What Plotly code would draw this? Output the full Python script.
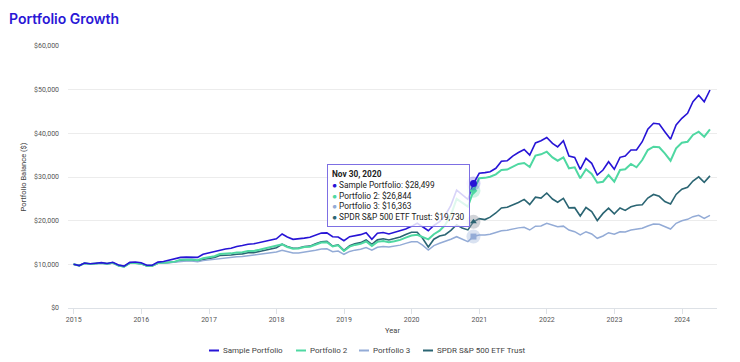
import pandas as pd
import plotly.graph_objects as go

# ---------------- data (monthly balances, Dec 2014 .. May 2024) ----------------
dates = pd.date_range("2014-12-31", periods=114, freq="ME")

sample_portfolio = [
    10000, 9720, 10290, 10150, 10260, 10400, 10200, 10480, 9850, 9600, 10450, 10520, 10380,
    9800, 9780, 10500, 10650, 10950, 11200, 11600, 11650, 11700, 11600, 12300, 12650,
    12950, 13280, 13500, 13700, 14100, 14300, 14600, 14700, 15000, 15300, 15650, 15850,
    16950, 16250, 15730, 15800, 16000, 16200, 16700, 17150, 17200, 16330, 16250, 15410,
    16330, 16550, 16800, 17240, 15730, 17100, 17300, 16950, 17350, 17700, 18100, 18700,
    19400, 18600, 17700, 18900, 19800, 21200, 23500, 27000, 25900, 24890, 28499, 30850,
    31000, 31220, 32000, 33600, 33700, 34800, 35600, 36300, 35000, 37800, 38300, 39050,
    37700, 36900, 38300, 34810, 34500, 31760, 34280, 33130, 30460, 31600, 33500, 31760,
    34500, 34810, 36180, 36180, 38080, 40920, 42300, 42140, 40380, 38630, 41910, 43440,
    44590, 47240, 48710, 47240, 49920,
]
portfolio_2 = [
    10000, 9710, 10250, 10090, 10190, 10320, 10110, 10340, 9720, 9480, 10280, 10320, 10150,
    9650, 9650, 10320, 10370, 10570, 10620, 11040, 11070, 11100, 10930, 11380, 11630,
    11870, 12350, 12380, 12510, 12690, 12770, 13030, 13070, 13340, 13650, 14060, 14230,
    14600, 13960, 13560, 13620, 13950, 14030, 14540, 15000, 15080, 14100, 14340, 13060,
    14050, 14450, 14680, 15230, 14220, 15150, 15340, 15060, 15300, 15600, 16130, 16600,
    16750, 16300, 15730, 16900, 17700, 19000, 21300, 25000, 24100, 23200, 26844, 29700,
    29800, 30070, 30600, 31600, 31700, 32400, 33000, 33200, 32300, 34900, 35200, 35800,
    34500, 33730, 34500, 31990, 32220, 29700, 31760, 30690, 28690, 28920, 30460, 28920,
    31600, 31760, 32980, 32220, 33890, 36180, 36940, 36800, 35430, 33730, 36570, 37850,
    38080, 39620, 40370, 39230, 40920,
]
portfolio_3 = [
    10000, 9780, 10200, 10080, 10150, 10250, 10090, 10280, 9800, 9620, 10230, 10250, 10100,
    9720, 9740, 10220, 10270, 10400, 10450, 10720, 10740, 10740, 10600, 10850, 11000,
    11150, 11430, 11470, 11580, 11720, 11800, 11980, 12030, 12200, 12420, 12700, 12820,
    13200, 12830, 12580, 12620, 12830, 12880, 13220, 13500, 13540, 12880, 13050, 12300,
    12950, 13250, 13460, 13850, 13250, 13900, 14080, 13950, 14120, 14400, 14800, 15150,
    15190, 14400, 13280, 14300, 14820, 15200, 15750, 16330, 15800, 15190, 16363, 16720,
    16700, 16900, 17300, 17700, 17800, 18100, 18350, 18480, 17860, 18750, 18800, 19400,
    18900, 18620, 18750, 17860, 17470, 16720, 17470, 16950, 15960, 16490, 17240, 16880,
    17470, 17400, 17860, 18020, 18250, 18780, 19240, 19170, 18620, 18090, 19400, 19990,
    20310, 20910, 21230, 20540, 21230,
]
spdr_sp500 = [
    10000, 9704, 10249, 10088, 10187, 10319, 10110, 10338, 9707, 9467, 10273, 10311, 10134,
    9629, 9621, 10268, 10308, 10483, 10520, 10904, 10917, 10918, 10729, 11124, 11350,
    11553, 12007, 12023, 12142, 12313, 12392, 12647, 12684, 12945, 13247, 13652, 13817,
    14596, 14065, 13680, 13750, 14084, 14166, 14693, 15162, 15251, 14197, 14460, 13189,
    14246, 14707, 14973, 15584, 14590, 15605, 15841, 15591, 15895, 16246, 16834, 17342,
    17335, 15962, 13973, 15748, 16497, 16789, 17778, 19056, 18343, 17886, 19730, 20462,
    20253, 20816, 21761, 22912, 23063, 23575, 24150, 24870, 23711, 25376, 25173, 26339,
    24951, 24215, 25125, 22919, 22972, 21077, 23018, 22079, 20039, 21668, 22873, 21556,
    22912, 22337, 23166, 23539, 23647, 25177, 26000, 25576, 24364, 23835, 26011, 27200,
    27632, 29075, 30026, 28801, 30258,
]

series_names = ["Sample Portfolio", "Portfolio 2", "Portfolio 3", "SPDR S&P 500 ETF Trust"]
series_values = [sample_portfolio, portfolio_2, portfolio_3, spdr_sp500]
year_ticks = [f"{y}-01-01" for y in range(2015, 2025)]
year_labels = [str(y) for y in range(2015, 2025)]
tooltip_index = 71  # Nov 30, 2020

# ---------------- styling ----------------
colors = ["#2714d6", "#4fd8a2", "#93abd6", "#2b6573"]
widths = [1.6, 2.0, 1.5, 1.6]
halo_colors = ["rgba(39,20,214,0.22)", "rgba(79,216,162,0.28)",
               "rgba(147,171,214,0.35)", "rgba(150,158,168,0.45)"]
symbols = ["circle", "diamond", "square", "triangle-up"]
sizes = [7, 6, 6, 6]
FONT = "Roboto, Arial, sans-serif"

# the page body has an 8px default margin: the figure is drawn 8px in from the
# window corner, so work in window pixels and subtract that offset
OFF = 8
W, H = 740 - OFF, 362 - OFF
PLOT_L, PLOT_R, PLOT_T, PLOT_B = 68, 717, 46, 308  # window pixels
L, R, T, B = PLOT_L - OFF, W - (PLOT_R - OFF), PLOT_T - OFF, H - (PLOT_B - OFF)
PW, PH = PLOT_R - PLOT_L, PLOT_B - PLOT_T


def px_x(px):
    return (px - PLOT_L) / PW


def px_y(py):
    return (PLOT_B - py) / PH


fig = go.Figure()

draw_order = [3, 2, 1, 0]
for i in draw_order:
    fig.add_trace(go.Scatter(
        x=dates, y=series_values[i], mode="lines", name=series_names[i],
        line=dict(color=colors[i], width=widths[i]),
        showlegend=False, hoverinfo="skip",
    ))

# hover markers at the tooltip date
for i in draw_order:
    fig.add_trace(go.Scatter(
        x=[dates[tooltip_index]], y=[series_values[i][tooltip_index]], mode="markers",
        marker=dict(size=14, color=halo_colors[i], symbol="circle", line=dict(width=0)),
        showlegend=False, hoverinfo="skip",
    ))
    fig.add_trace(go.Scatter(
        x=[dates[tooltip_index]], y=[series_values[i][tooltip_index]], mode="markers",
        marker=dict(size=sizes[i], color=colors[i], symbol=symbols[i], line=dict(width=0)),
        showlegend=False, hoverinfo="skip",
    ))

# tooltip box
lines = ["<b>" + dates[tooltip_index].strftime("%b %d, %Y") + "</b>"]
for i in range(4):
    lines.append(f"<span style='color:{colors[i]}'>●</span> {series_names[i]}: ${series_values[i][tooltip_index]:,}")
fig.add_annotation(
    xref="paper", yref="paper", x=px_x(327), y=px_y(164), xanchor="left", yanchor="top",
    text="<br>".join(lines), showarrow=False, align="left",
    font=dict(family=FONT, size=8.3, color="#222222"),
    bgcolor="rgba(255,255,255,0.82)", bordercolor="#7d6fe3", borderwidth=1, borderpad=4,
)

# manual legend
legend_x = [209, 296, 359, 423]
legend_y = 350.5
for i in range(4):
    fig.add_shape(type="line", xref="paper", yref="paper",
                  x0=px_x(legend_x[i]), x1=px_x(legend_x[i] + 10),
                  y0=px_y(legend_y), y1=px_y(legend_y),
                  line=dict(color=colors[i], width=2))
    fig.add_annotation(xref="paper", yref="paper", x=px_x(legend_x[i] + 12), y=px_y(legend_y),
                       xanchor="left", yanchor="middle", showarrow=False,
                       text=series_names[i], font=dict(family=FONT, size=8, color="#444444"))

fig.update_layout(
    width=W, height=H,
    margin=dict(l=L, r=R, t=T, b=B, autoexpand=False),
    paper_bgcolor="white", plot_bgcolor="white",
    showlegend=False,
    title=dict(text="Portfolio Growth", x=(9 - OFF) / W, xref="container", xanchor="left",
               y=1 - (19 - OFF) / H, yref="container", yanchor="middle",
               font=dict(family="Inter, Open Sans, sans-serif", size=14, color="#2a17d6", weight=600)),
    font=dict(family=FONT, size=7, color="#555555"),
    hovermode=False,
)
fig.update_xaxes(
    type="date", range=["2014-12-01", "2024-07-08"],
    tickvals=year_ticks, ticktext=year_labels,
    ticks="outside", ticklen=5, tickcolor="#dde1e6", tickwidth=1,
    showline=True, linecolor="#dde1e6", linewidth=1,
    showgrid=False, zeroline=False,
    tickfont=dict(family=FONT, size=7, color="#555555"),
    title=dict(text="Year", font=dict(family=FONT, size=7.5, color="#444444"), standoff=4),
)
fig.update_yaxes(
    range=[0, 60000], dtick=10000, tickformat="$,.0f",
    showgrid=True, gridcolor="#ececec", gridwidth=1,
    zeroline=False, showline=False, ticks="", ticklabelstandoff=8,
    tickfont=dict(family=FONT, size=7, color="#555555"),
    title=dict(text="Portfolio Balance ($)", font=dict(family=FONT, size=7.5, color="#444444"), standoff=6),
)

fig.write_html("out.html")
